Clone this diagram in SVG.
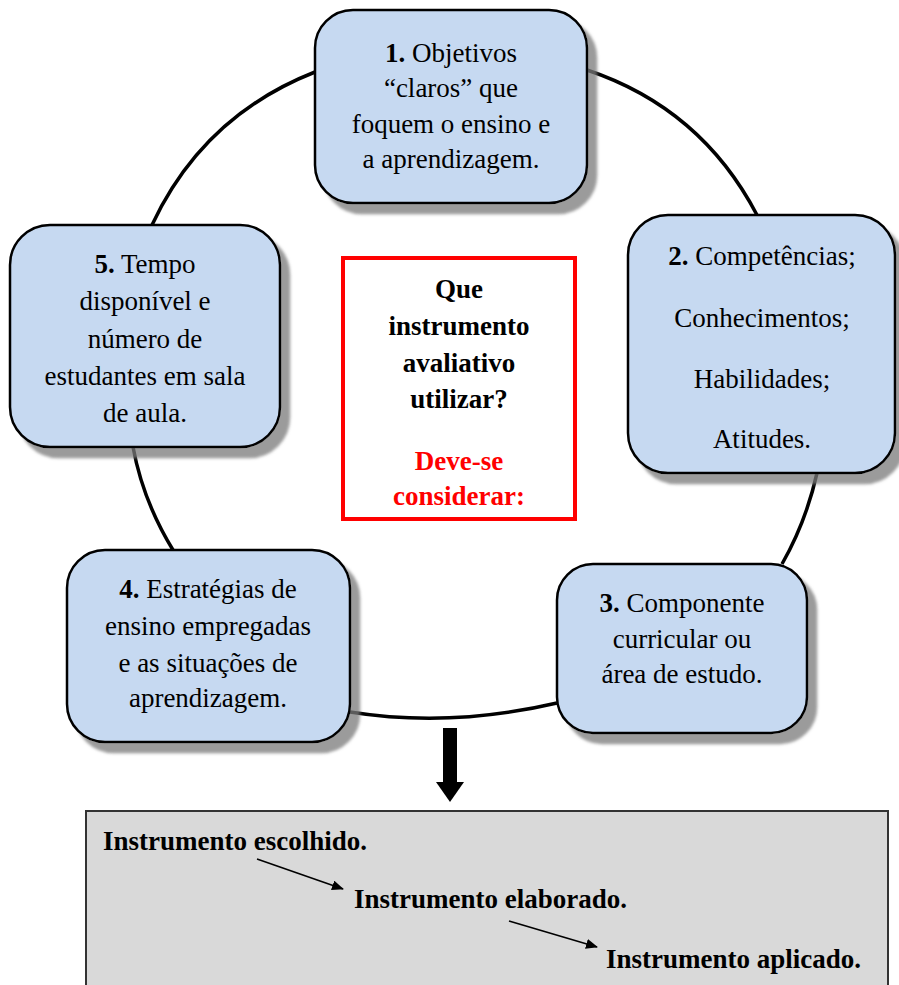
<svg xmlns="http://www.w3.org/2000/svg" width="899" height="985" viewBox="0 0 899 985">
<defs>
<style>
.t{font-family:"Liberation Serif","Times New Roman",serif;font-size:27px;fill:#000;text-anchor:middle}
.tl{font-family:"Liberation Serif","Times New Roman",serif;font-size:27px;fill:#000;font-weight:bold}
.b{font-weight:bold}
.box{fill:#c6d9f1;stroke:#000;stroke-width:2.5;filter:url(#sh)}
.ring{fill:none;stroke:#000;stroke-width:3.5}
.thin{fill:none;stroke:#000;stroke-width:1.6;marker-end:url(#ah)}
</style>
<filter id="sh" x="-10%" y="-10%" width="130%" height="130%">
<feDropShadow dx="9" dy="10" stdDeviation="1.8" flood-color="#7a7a7a" flood-opacity="0.75"/>
</filter>
<marker id="ah" markerWidth="12" markerHeight="10" refX="11" refY="5" orient="auto" markerUnits="userSpaceOnUse">
<path d="M0,0 L12,5 L0,10 Z" fill="#000"/>
</marker>
</defs>
<rect width="899" height="985" fill="#fff"/>
<g id="connectors">
<path class="ring" d="M587,70 Q701,108 757,215"/>
<path class="ring" d="M817,473 Q806,522 782,564"/>
<path class="ring" d="M557,703 Q450,728 350,712"/>
<path class="ring" d="M173,550 Q143,501 133,447"/>
<path class="ring" d="M152,225 Q203,116 315,72"/>
<g id="down-arrow">
<rect x="443" y="728" width="14" height="55" fill="#000"/>
<polygon points="436,782 464,782 450,802" fill="#000"/>
</g>
</g>
<g id="node1">
<rect class="box" x="315" y="10" width="272" height="193" rx="38"/>
<text class="t" x="451" y="62"><tspan class="b">1.</tspan> Objetivos</text>
<text class="t" x="451" y="97">“claros” que</text>
<text class="t" x="451" y="133">foquem o ensino e</text>
<text class="t" x="451" y="168">a aprendizagem.</text>
</g>
<g id="node2">
<rect class="box" x="628" y="215" width="267" height="258" rx="40"/>
<text class="t" x="762" y="265"><tspan class="b">2.</tspan> Competências;</text>
<text class="t" x="762" y="327">Conhecimentos;</text>
<text class="t" x="762" y="388">Habilidades;</text>
<text class="t" x="762" y="448">Atitudes.</text>
</g>
<g id="node3">
<rect class="box" x="557" y="564" width="250" height="169" rx="36"/>
<text class="t" x="682" y="612"><tspan class="b">3.</tspan> Componente</text>
<text class="t" x="682" y="648">curricular ou</text>
<text class="t" x="682" y="683">área de estudo.</text>
</g>
<g id="node4">
<rect class="box" x="67" y="550" width="283" height="192" rx="38"/>
<text class="t" x="208" y="598"><tspan class="b">4.</tspan> Estratégias de</text>
<text class="t" x="208" y="635">ensino empregadas</text>
<text class="t" x="208" y="672">e as situações de</text>
<text class="t" x="208" y="707">aprendizagem.</text>
</g>
<g id="node5">
<rect class="box" x="10" y="225" width="270" height="222" rx="40"/>
<text class="t" x="145" y="273"><tspan class="b">5.</tspan> Tempo</text>
<text class="t" x="145" y="310">disponível e</text>
<text class="t" x="145" y="348">número de</text>
<text class="t" x="145" y="385">estudantes em sala</text>
<text class="t" x="145" y="422">de aula.</text>
</g>
<g id="center">
<rect x="343" y="258" width="232" height="261" fill="#fff" stroke="#ff0000" stroke-width="4"/>
<text class="t b" x="459" y="298">Que</text>
<text class="t b" x="459" y="335">instrumento</text>
<text class="t b" x="459" y="372">avaliativo</text>
<text class="t b" x="459" y="408">utilizar?</text>
<text class="t b" x="459" y="470" style="fill:#ff0000">Deve-se</text>
<text class="t b" x="459" y="505" style="fill:#ff0000">considerar:</text>
</g>
<g id="result">
<rect x="86" y="811" width="802" height="185" fill="#d9d9d9" stroke="#333" stroke-width="2"/>
<text class="tl" x="103" y="850">Instrumento escolhido.</text>
<text class="tl" x="354" y="908">Instrumento elaborado.</text>
<text class="tl" x="606" y="968">Instrumento aplicado.</text>
</g>
<g id="flow-connectors">
<line class="thin" x1="257" y1="859" x2="343" y2="889"/>
<line class="thin" x1="509" y1="921" x2="597" y2="947"/>
</g>
</svg>
